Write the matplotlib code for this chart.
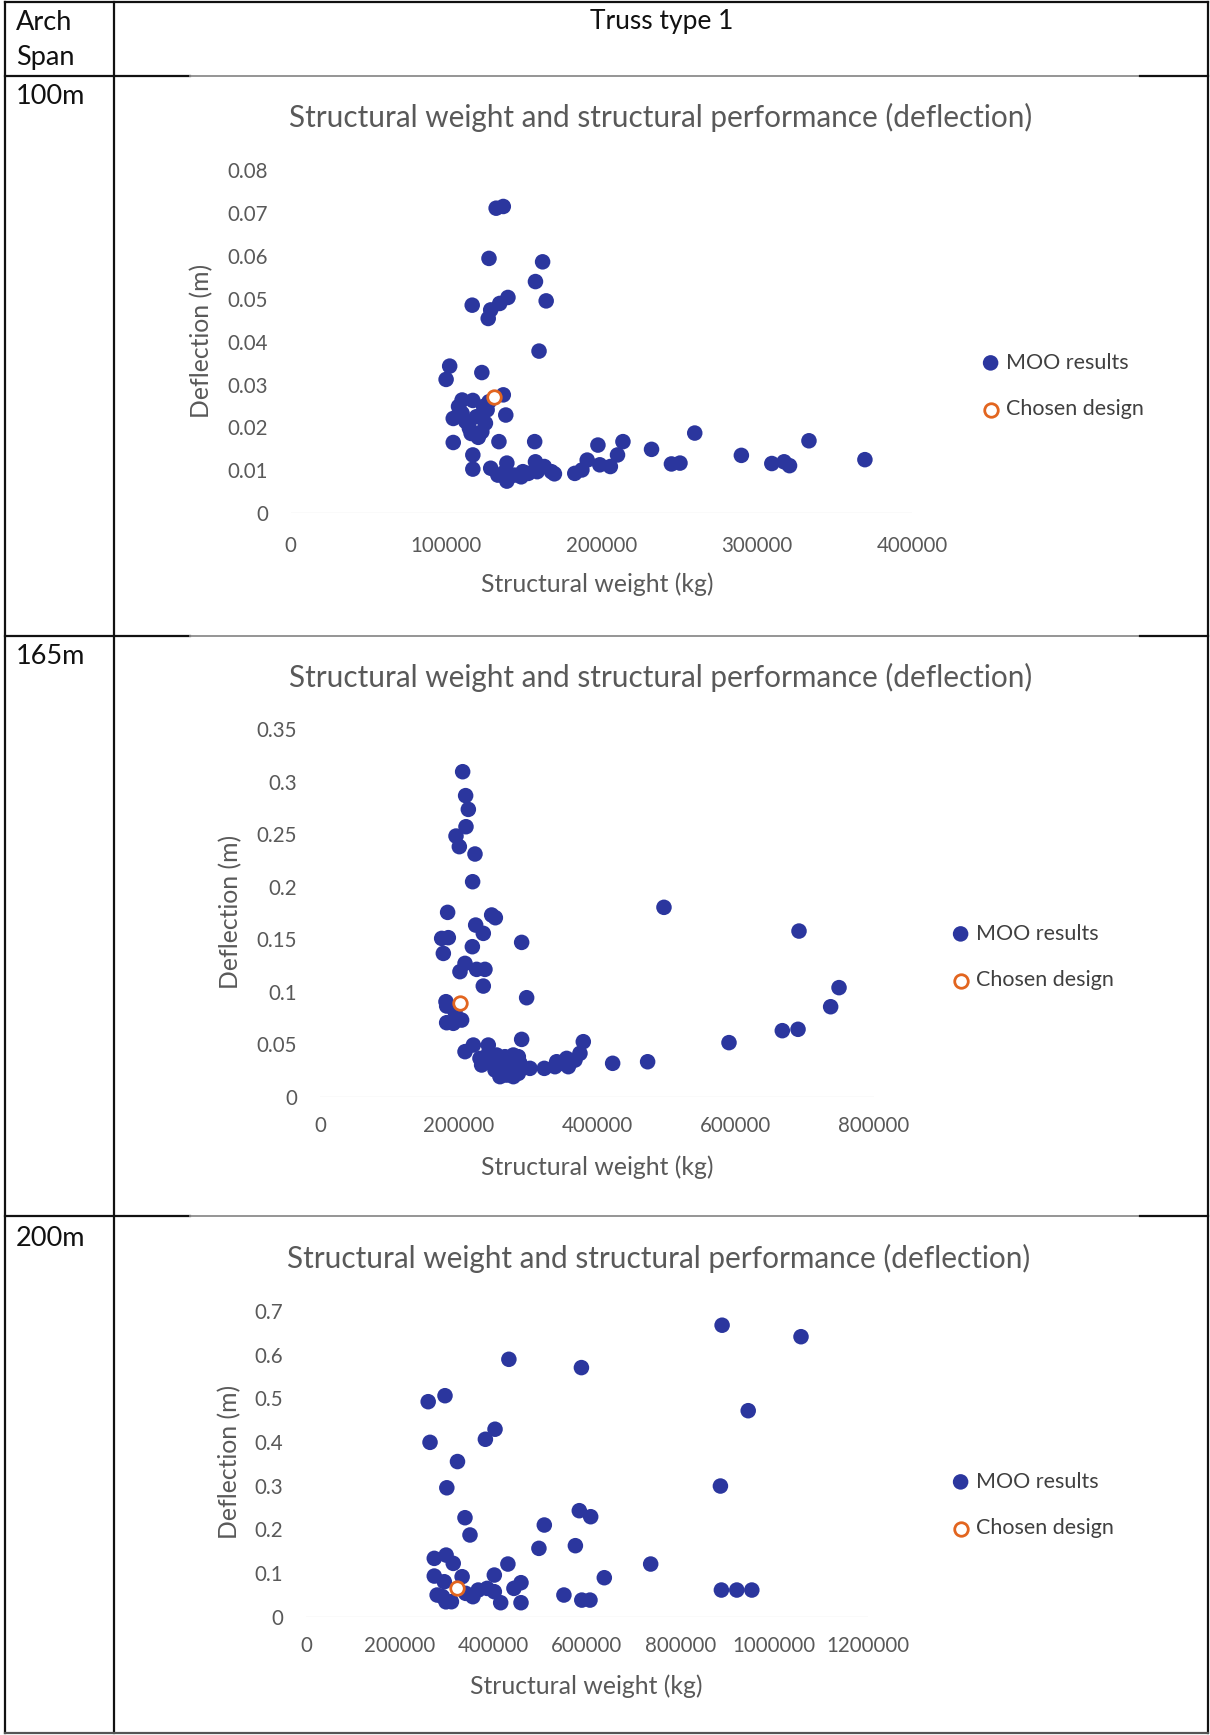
import numpy as np
import matplotlib
matplotlib.use("Agg")
import matplotlib.pyplot as plt
from matplotlib.ticker import FuncFormatter

plt.rcParams['font.family'] = ['Lato', 'DejaVu Sans']

# ---- data ----
span_labels = ["100m", "165m", "200m"]

# 100 m span: structural weight (kg) / deflection (m)
w100 = [132200, 136800, 127600, 162100, 157500, 164400, 116800, 139800, 134500, 128700,
        127100, 159800, 102300, 100000, 123000, 136800, 138400,
        110300, 117200, 104600, 110300, 112600, 119500, 124100, 126400, 125300, 123000,
        116100, 120700, 115000, 127600, 108000,
        104600, 134000, 157000, 117200, 117200, 128700, 139100,
        133300, 139100, 143700, 148300, 152900, 157500, 158600, 163200, 167800, 169700,
        137900, 149400,
        182800, 187400, 190800, 197700, 198900, 205700, 210300, 213800, 232200, 245000,
        250500, 260000, 290000, 309600, 317500, 321000, 333500, 369500]
d100 = [0.0711, 0.0715, 0.0594, 0.0586, 0.0540, 0.0495, 0.0485, 0.0503, 0.0489, 0.0474,
        0.0454, 0.0378, 0.0343, 0.0312, 0.0328, 0.0276, 0.0229,
        0.0264, 0.0263, 0.0221, 0.0233, 0.0214, 0.0225, 0.0249, 0.0241, 0.0210, 0.0190,
        0.0186, 0.0177, 0.0198, 0.0260, 0.0249,
        0.0165, 0.0167, 0.0167, 0.0136, 0.0103, 0.0105, 0.0117,
        0.0089, 0.0075, 0.0089, 0.0085, 0.0093, 0.0120, 0.0097, 0.0109, 0.0097, 0.0092,
        0.0097, 0.0097,
        0.0093, 0.0101, 0.0124, 0.0159, 0.0113, 0.0109, 0.0136, 0.0167, 0.0149, 0.0115,
        0.0117, 0.0187, 0.0135, 0.0116, 0.0120, 0.0111, 0.0169, 0.0125]
chosen100 = (131000, 0.0272)

# 165 m span
w165 = [206000, 210300, 214200, 210800, 196400, 201200, 223800, 220400, 184300, 247900,
        253200, 224800, 235800, 175700, 185300, 178100, 220000, 291200, 209400, 202100,
        226200, 238200, 235800, 298400, 181900, 182900, 194900, 182900, 204500, 192500,
        291200, 221400, 209400, 243000, 380200, 375400,
        231000, 233400, 243100, 255100, 259900, 252700, 259900, 269500, 279200, 286400,
        267100, 279200, 286400, 274300, 288800, 247900,
        303200, 323900, 341700, 356200, 358600, 368200, 339300, 348900,
        422600, 473100, 496700, 691700, 749500, 737400, 667600, 690300, 590600]
d165 = [0.3096, 0.2868, 0.2737, 0.2572, 0.2483, 0.2382, 0.2312, 0.2048, 0.1756, 0.1731,
        0.1705, 0.1635, 0.1556, 0.1508, 0.1515, 0.1365, 0.1429, 0.1470, 0.1270, 0.1191,
        0.1213, 0.1213, 0.1054, 0.0943, 0.0905, 0.0864, 0.0810, 0.0705, 0.0730, 0.0699,
        0.0546, 0.0492, 0.0429, 0.0492, 0.0524, 0.0413,
        0.0365, 0.0302, 0.0413, 0.0397, 0.0333, 0.0254, 0.0191, 0.0206, 0.0191, 0.0222,
        0.0381, 0.0397, 0.0381, 0.0286, 0.0318, 0.0318,
        0.0270, 0.0270, 0.0333, 0.0365, 0.0286, 0.0349, 0.0286, 0.0318,
        0.0318, 0.0333, 0.1804, 0.1578, 0.1039, 0.0857, 0.0629, 0.0642, 0.0515]
chosen165 = (202100, 0.0896)

# 200 m span
w200 = [261100, 297000, 265000, 433500, 588500, 383300, 403900, 323700, 300900, 339700,
        350400, 509200, 584000, 608300, 497700, 575600, 431400, 736500, 637400, 885500,
        889100, 1057700, 944900, 887600, 920500, 952600, 551100, 589300, 606800,
        274100, 299400, 314600, 274100, 295500, 280200, 310700, 333600, 341300, 368000,
        387000, 402400, 402400, 416000, 444300, 459400, 459400, 291700, 299100, 356600]
d200 = [0.492, 0.5057, 0.399, 0.589, 0.570, 0.406, 0.429, 0.355, 0.295, 0.2265,
        0.187, 0.2098, 0.2426, 0.2288, 0.1564, 0.1625, 0.1205, 0.1205, 0.0892, 0.299,
        0.667, 0.6407, 0.4714, 0.061, 0.061, 0.061, 0.0496, 0.038, 0.038,
        0.1335, 0.141, 0.122, 0.093, 0.080, 0.0496, 0.0343, 0.0915, 0.0534, 0.061,
        0.0648, 0.0953, 0.0572, 0.032, 0.0648, 0.0778, 0.032, 0.0458, 0.034, 0.0458]
chosen200 = (323700, 0.0648)

xticks_list = [[0, 100000, 200000, 300000, 400000],
               [0, 200000, 400000, 600000, 800000],
               [0, 200000, 400000, 600000, 800000, 1000000, 1200000]]
yticks_list = [[0, 0.01, 0.02, 0.03, 0.04, 0.05, 0.06, 0.07, 0.08],
               [0, 0.05, 0.1, 0.15, 0.2, 0.25, 0.3, 0.35],
               [0, 0.1, 0.2, 0.3, 0.4, 0.5, 0.6, 0.7]]

W, H = 1210, 1735
BLUE = '#2b369e'
ORANGE = '#e2651f'
GREY = '#595959'

fig = plt.figure(figsize=(W / 100, H / 100), dpi=100)
bg = fig.add_axes([0, 0, 1, 1])
bg.set_xlim(0, W)
bg.set_ylim(H, 0)
bg.axis('off')

# table grid
for x in [5, 114, 1208]:
    bg.plot([x, x], [2, 1733], color='#111111', lw=1.6)
bg.plot([5, 1208], [2, 2], color='#111111', lw=1.6)
bg.plot([5, 1208], [1733, 1733], color='#555555', lw=1.6)
for y in [76, 636, 1216]:
    bg.plot([5, 190], [y, y], color='#111111', lw=1.6)
    bg.plot([190, 1140], [y, y], color='#8c8c8c', lw=1.3)
    bg.plot([1140, 1208], [y, y], color='#111111', lw=1.6)

bg.text(16, 22, "Arch", fontsize=19.5, va='center', ha='left', color='#111111')
bg.text(16, 58, "Span", fontsize=19.5, va='center', ha='left', color='#111111')
bg.text(662, 22, "Truss type 1", fontsize=19, va='center', ha='center', color='#111111')
for lbl, y in zip(span_labels, [96, 656, 1238]):
    bg.text(16, y, lbl, fontsize=19.5, va='center', ha='left', color='#111111')

# panel geometry in pixels: left, right, bottom(y=0), top
boxes = [(290.7, 912.3, 513.3, 170.0),
         (320.0, 874.0, 1096.7, 729.3),
         (306.0, 867.6, 1616.7, 1310.8)]
title_pos = [(661, 117), (661, 677), (659, 1258)]
ylabel_pos = [(202, 341), (231, 912), (230, 1462)]
xlabel_pos = [(597, 584), (597, 1167), (586, 1686)]
legend_anchor = [(982, 386), (952, 957), (952, 1505)]
xpad = [16, 14, 14]

data = [(w100, d100, chosen100), (w165, d165, chosen165), (w200, d200, chosen200)]

for i, (ws, ds, ch) in enumerate(data):
    l, r, b, t = boxes[i]
    ax = fig.add_axes([l / W, 1 - b / H, (r - l) / W, (b - t) / H])
    ax.patch.set_alpha(0)
    moo = ax.scatter(ws, ds, s=125, color=BLUE, edgecolors='none', label='MOO results', zorder=2)
    cho = ax.scatter([ch[0]], [ch[1]], s=95, facecolors='white', edgecolors=ORANGE,
                     linewidths=2.0, label='Chosen design', zorder=3)
    ax.set_xlim(xticks_list[i][0], xticks_list[i][-1])
    ax.set_ylim(yticks_list[i][0], yticks_list[i][-1])
    ax.set_xticks(xticks_list[i])
    ax.set_yticks(yticks_list[i])
    ax.xaxis.set_major_formatter(FuncFormatter(lambda v, p: "%d" % v))
    ax.yaxis.set_major_formatter(FuncFormatter(lambda v, p: "%g" % v))
    for s in ax.spines.values():
        s.set_visible(False)
    ax.tick_params(axis='y', length=0, pad=16.5, labelsize=14.8, labelcolor=GREY)
    ax.tick_params(axis='x', length=0, pad=xpad[i], labelsize=14.8, labelcolor=GREY)
    ax.axhline(0, color='#e6e6e6', lw=1, zorder=1)

    ax.set_xlabel("Structural weight (kg)", fontsize=17.8, color=GREY, va='center')
    ax.xaxis.set_label_coords(*xlabel_pos[i], transform=bg.transData)
    ax.set_ylabel("Deflection (m)", fontsize=17.8, color=GREY, va='center')
    ax.yaxis.set_label_coords(*ylabel_pos[i], transform=bg.transData)
    bg.text(*title_pos[i], "Structural weight and structural performance (deflection)",
            fontsize=21.4, color=GREY, ha='center', va='center')

    lx, ly = legend_anchor[i]
    leg = ax.legend(handles=[moo, cho], loc='center left', frameon=False,
                    bbox_to_anchor=(lx / W, 1 - ly / H), bbox_transform=fig.transFigure,
                    fontsize=15.5, handlelength=0.8, handletextpad=0.3,
                    labelspacing=1.25, borderpad=0, borderaxespad=0)
    for txt in leg.get_texts():
        txt.set_color('#404040')

fig.savefig("out.png", dpi=100)
